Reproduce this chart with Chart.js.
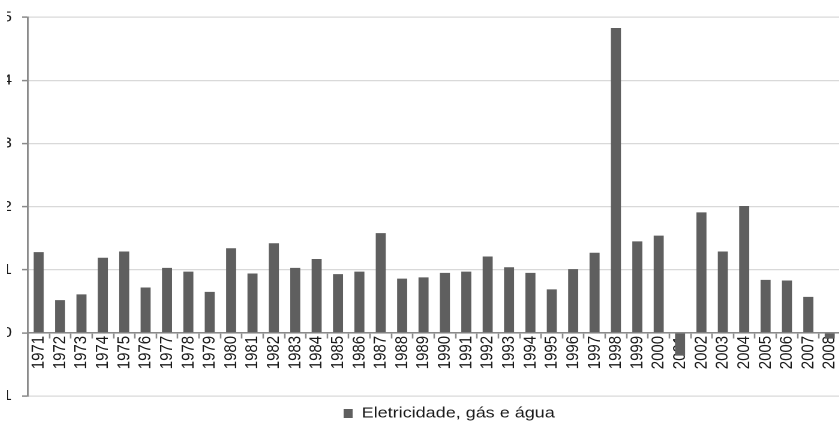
<!DOCTYPE html>
<html>
<head>
<meta charset="utf-8">
<script src="https://cdn.jsdelivr.net/npm/chart.js@4/dist/chart.umd.min.js"></script>
<style>
  html, body { margin: 0; padding: 0; background: #fff; }
  #frame { position: absolute; left: 7px; top: 0; width: 832px; height: 430px; overflow: hidden; }
  #holder { position: absolute; left: -21px; top: 0; width: 712px; height: 430px;
            transform: scaleX(1.2); transform-origin: 0 0; }
</style>
</head>
<body>
<div id="frame"><div id="holder"><canvas id="c"></canvas></div></div>
<script>
const years = ['1971','1972','1973','1974','1975','1976','1977','1978','1979','1980',
  '1981','1982','1983','1984','1985','1986','1987','1988','1989','1990',
  '1991','1992','1993','1994','1995','1996','1997','1998','1999','2000',
  '2001','2002','2003','2004','2005','2006','2007','2008'];
const eletricidade = [1.28, 0.52, 0.61, 1.19, 1.29, 0.72, 1.03, 0.97, 0.65, 1.34,
  0.94, 1.42, 1.03, 1.17, 0.93, 0.97, 1.58, 0.86, 0.88, 0.95,
  0.97, 1.21, 1.04, 0.95, 0.69, 1.01, 1.27, 4.83, 1.45, 1.54,
  -0.36, 1.91, 1.29, 2.01, 0.84, 0.83, 0.57, -0.09];
const yTicks = [-1, 0, 1, 2, 3, 4, 5];
const seriesName = 'Eletricidade, gás e água';

const BAR = '#5f5f5f';
const AXIS = '#8a8a8a';
const GRID = '#d9d9d9';
const TEXT = '#1a1a1a';
const FONT = "'Liberation Sans', Arial, sans-serif";

Chart.defaults.font.family = FONT;

// nudges the legend row to the right of centre
const legendPlacement = {
  id: 'legendPlacement',
  afterLayout(chart) {
    const lg = chart.legend;
    if (!lg) return;
    const dx = 386 - (lg.left + lg.right) / 2;
    lg.left += dx; lg.right += dx;
    lg.top += 2; lg.bottom += 2;
  }
};

new Chart(document.getElementById('c'), {
  type: 'bar',
  data: {
    labels: years,
    datasets: [{
      label: seriesName,
      data: eletricidade,
      backgroundColor: BAR,
      borderWidth: 0,
      categoryPercentage: 1,
      barPercentage: 0.47
    }]
  },
  options: {
    responsive: true,
    maintainAspectRatio: false,
    animation: false,
    devicePixelRatio: 2,
    layout: { padding: { top: 15, right: 0, bottom: 1, left: 0 } },
    plugins: {
      tooltip: { enabled: false },
      legend: {
        position: 'bottom',
        labels: {
          boxWidth: 7.5,
          boxHeight: 9,
          padding: 8,
          color: TEXT,
          font: { family: FONT, size: 15 }
        }
      }
    },
    scales: {
      x: {
        position: { y: 0 },
        // plot runs right up to the edge; no room kept for the last label
        afterFit(scale) { scale.paddingLeft = 0; scale.paddingRight = 0; },
        grid: {
          display: true,
          drawOnChartArea: false,
          drawTicks: true,
          tickLength: 5,
          tickColor: AXIS,
          tickWidth: 1.3,
          offset: true
        },
        border: { display: true, color: AXIS, width: 1.5 },
        ticks: {
          minRotation: 90,
          maxRotation: 90,
          autoSkip: false,
          padding: -2,
          color: TEXT,
          font: { family: FONT, size: 15 }
        }
      },
      y: {
        min: -1,
        max: 5,
        afterBuildTicks(scale) { scale.ticks = yTicks.map(v => ({ value: v })); },
        afterFit(scale) { scale.width = 35; },
        grid: {
          color: GRID,
          lineWidth: 1.2,
          drawTicks: true,
          tickLength: 5,
          tickColor: AXIS,
          tickWidth: 1.5
        },
        border: { display: true, color: AXIS, width: 1.7 },
        ticks: {
          padding: 8.3,
          color: TEXT,
          font: { family: FONT, size: 15 }
        }
      }
    }
  },
  plugins: [legendPlacement]
});
</script>
</body>
</html>
